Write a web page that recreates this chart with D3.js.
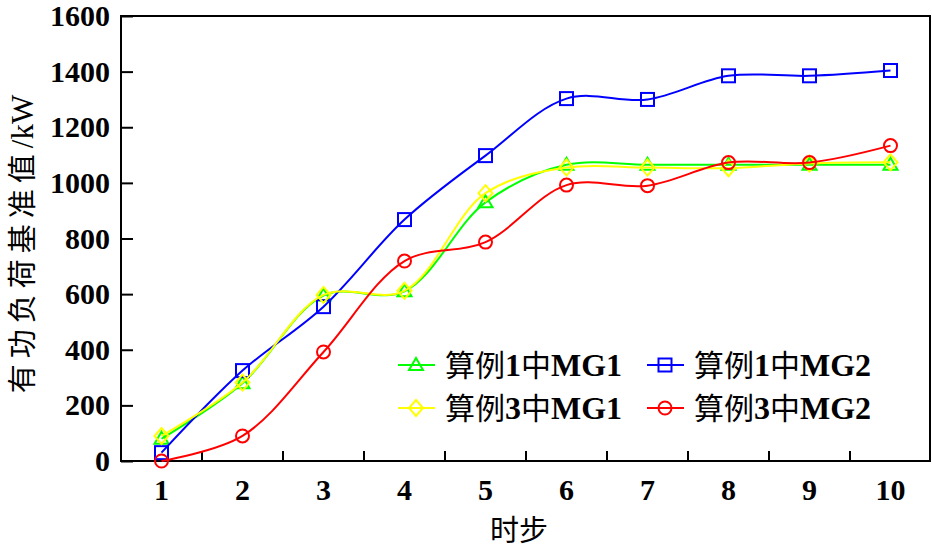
<!DOCTYPE html>
<html>
<head>
<meta charset="utf-8">
<script src="https://cdn.jsdelivr.net/npm/d3@7"></script>
<style>
  body { margin: 0; background: #fff; }
  svg text { font-family: "Liberation Serif", "Noto Sans CJK SC", serif; fill: #000; }
</style>
</head>
<body>
<div id="chart"></div>
<script>
// data
var steps = [1, 2, 3, 4, 5, 6, 7, 8, 9, 10]
var case1_mg1 = [80, 280, 595, 610, 930, 1065, 1065, 1065, 1065, 1065]
var case1_mg2 = [30, 325, 555, 868, 1098, 1303, 1300, 1385, 1385, 1404]
var case3_mg1 = [90, 282, 597, 612, 963, 1055, 1055, 1053, 1070, 1074]
var case3_mg2 = [0, 90, 392, 719, 787, 992, 990, 1073, 1073, 1134]
var y_ticks = [0, 200, 400, 600, 800, 1000, 1200, 1400, 1600]

var series = [
  {name: '算例1中MG1', values: case1_mg1, color: '#00ff00', shape: 'triangle'},
  {name: '算例1中MG2', values: case1_mg2, color: '#0000ff', shape: 'square'},
  {name: '算例3中MG1', values: case3_mg1, color: '#ffff00', shape: 'diamond'},
  {name: '算例3中MG2', values: case3_mg2, color: '#ff0000', shape: 'circle'}
]

var width = 932, height = 546
var m_left = 121, m_right = 931, m_top = 16, m_bottom = 461

var svg = d3.select('#chart').append('svg')
  .attr('width', width)
  .attr('height', height)

var x = d3.scaleBand().domain(steps).range([m_left, m_right])
var y = d3.scaleLinear().domain([0, 1600]).range([m_bottom, m_top])

// mixed text: CJK runs plain, latin runs serif
function mixed_text(sel, str, latin_size, cjk_spacing, latin_weight){
  var runs = str.match(/[\u4e00-\u9fff]+|[^\u4e00-\u9fff]+/g)
  runs.forEach(function(r){
    var cjk = /[\u4e00-\u9fff]/.test(r)
    var t = sel.append('tspan').text(r)
    if(cjk){
      t.attr('font-family', '"Noto Sans CJK SC", sans-serif')
      if(cjk_spacing) t.attr('letter-spacing', cjk_spacing)
    } else {
      t.attr('font-weight', latin_weight).attr('font-size', latin_size)
    }
  })
}

// frame
svg.append('rect')
  .attr('x', m_left).attr('y', m_top)
  .attr('width', m_right - m_left - 1).attr('height', m_bottom - m_top)
  .attr('fill', 'none').attr('stroke', '#000').attr('stroke-width', 2)

// y axis, ticks inside
var y_axis = svg.append('g')
  .attr('transform', 'translate(' + m_left + ',0)')
  .call(d3.axisRight(y).tickValues(y_ticks).tickSize(12).tickFormat(''))
y_axis.select('.domain').remove()
y_axis.selectAll('line').attr('stroke', '#000').attr('stroke-width', 2)

svg.selectAll('.ylab')
  .data(y_ticks)
  .enter().append('text')
  .attr('class', 'ylab')
  .attr('x', 110)
  .attr('y', function(d){ return y(d) + 10 })
  .attr('text-anchor', 'end')
  .attr('font-size', 30)
  .attr('font-weight', 'bold')
  .text(function(d){ return d })

// x axis: ticks at band boundaries
var bounds = steps.slice(1).map(function(d){ return x(d) })
svg.selectAll('.xtick')
  .data(bounds)
  .enter().append('line')
  .attr('x1', function(d){ return d }).attr('x2', function(d){ return d })
  .attr('y1', m_bottom).attr('y2', m_bottom - 10)
  .attr('stroke', '#000').attr('stroke-width', 2)

svg.selectAll('.xlab')
  .data(steps)
  .enter().append('text')
  .attr('class', 'xlab')
  .attr('x', function(d){ return x(d) + x.bandwidth() / 2 })
  .attr('y', 500)
  .attr('text-anchor', 'middle')
  .attr('font-size', 30)
  .attr('font-weight', 'bold')
  .text(function(d){ return d })

// axis titles
svg.append('text')
  .attr('x', 519).attr('y', 541)
  .attr('text-anchor', 'middle')
  .attr('font-size', 29)
  .attr('font-family', '"Noto Sans CJK SC", sans-serif')
  .text('时步')

var y_title = svg.append('text')
  .attr('transform', 'translate(33,244) rotate(-90)')
  .attr('text-anchor', 'middle')
  .attr('font-size', 29)
mixed_text(y_title, '有功负荷基准值/kW', 31, 6, 'normal')

// markers
function marker(g, shape, color){
  if(shape == 'triangle'){
    g.append('path').attr('d', 'M0,-7L7,5L-7,5Z')
  } else if(shape == 'square'){
    g.append('rect').attr('x', -6.5).attr('y', -6.5).attr('width', 13).attr('height', 13)
  } else if(shape == 'diamond'){
    g.append('path').attr('d', 'M0,-8L7,0L0,8L-7,0Z')
  } else {
    g.append('circle').attr('r', 6.5)
  }
  g.selectAll('path, rect, circle')
    .attr('fill', 'none').attr('stroke', color).attr('stroke-width', 2)
}

var line = d3.line()
  .x(function(d, i){ return x(steps[i]) + x.bandwidth() / 2 })
  .y(function(d){ return y(d) })
  .curve(d3.curveCatmullRom)

series.forEach(function(s){
  svg.append('path')
    .datum(s.values)
    .attr('d', line)
    .attr('fill', 'none')
    .attr('stroke', s.color)
    .attr('stroke-width', 2)
  s.values.forEach(function(v, i){
    var g = svg.append('g')
      .attr('transform', 'translate(' + (x(steps[i]) + x.bandwidth() / 2) + ',' + y(v) + ')')
    marker(g, s.shape, s.color)
  })
})

// legend
var legend_pos = [[398, 365], [647, 365], [398, 408], [647, 408]]
series.forEach(function(s, i){
  var lx = legend_pos[i][0], ly = legend_pos[i][1]
  svg.append('line')
    .attr('x1', lx).attr('x2', lx + 37)
    .attr('y1', ly).attr('y2', ly)
    .attr('stroke', s.color).attr('stroke-width', 2)
  var g = svg.append('g').attr('transform', 'translate(' + (lx + 18) + ',' + ly + ')')
  marker(g, s.shape, s.color)
  var t = svg.append('text')
    .attr('x', lx + 47).attr('y', ly + 11)
    .attr('font-size', 30)
  mixed_text(t, s.name, 32, 0, 'bold')
})
</script>
</body>
</html>
